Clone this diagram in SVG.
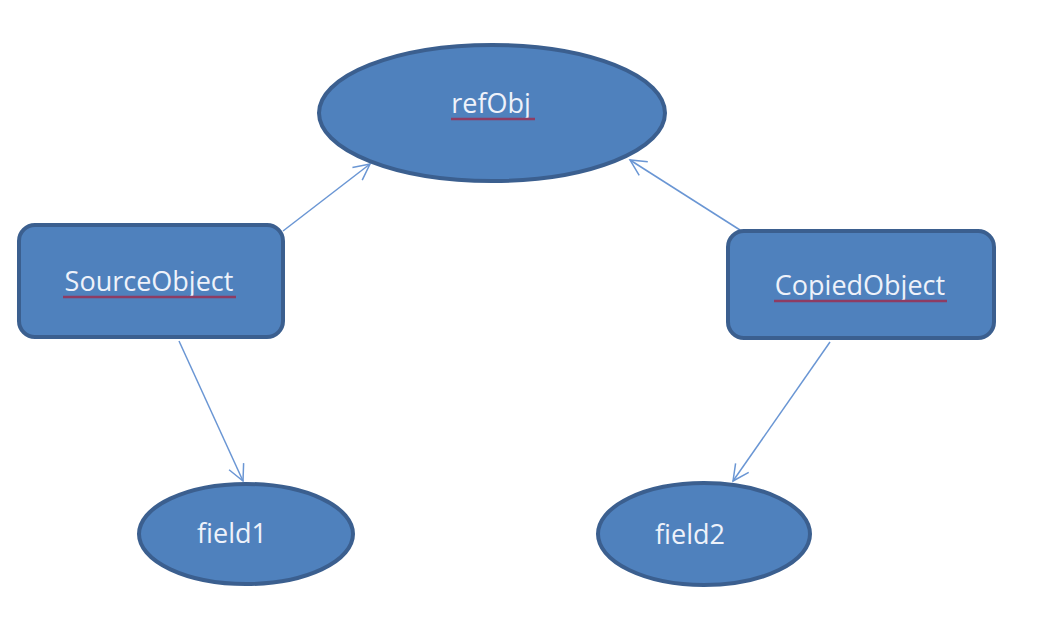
<svg xmlns="http://www.w3.org/2000/svg" width="1056" height="635" viewBox="0 0 1056 635">
<style>
.node{fill:#4f81bd;stroke:#3b5f8f;stroke-width:4}
.lbl{font-family:"Open Sans","Liberation Sans",sans-serif;font-size:27px;fill:#eef2fa;text-anchor:middle}
.sq{stroke:#8e3c63;stroke-width:2.5;fill:none}
.edge{stroke:#6a96d4;stroke-width:1.5;fill:none}
</style>
<defs>
<marker id="arr" viewBox="0 0 20 20" refX="18" refY="10" markerWidth="20" markerHeight="20" markerUnits="userSpaceOnUse" orient="auto">
<path d="M2,2 L18,10 L2,18" fill="none" stroke="#6a96d4" stroke-width="1.5"/>
</marker>
</defs>
<rect width="1056" height="635" fill="#ffffff"/>
<g id="connectors">
<line class="edge" x1="283" y1="231" x2="370" y2="164" marker-end="url(#arr)"/>
<line class="edge" x1="740" y1="230" x2="630" y2="160" marker-end="url(#arr)"/>
<line class="edge" x1="179" y1="341" x2="243" y2="481" marker-end="url(#arr)"/>
<line class="edge" x1="830" y1="342" x2="733" y2="481" marker-end="url(#arr)"/>
</g>
<g id="refObj">
<ellipse class="node" cx="492" cy="113" rx="173" ry="68"/>
<text class="lbl" x="491" y="113">refObj</text>
<line class="sq" x1="451" y1="119" x2="535" y2="119"/>
</g>
<g id="SourceObject">
<rect class="node" x="19" y="225" width="264" height="112" rx="16"/>
<text class="lbl" x="149" y="291">SourceObject</text>
<line class="sq" x1="63" y1="297" x2="236" y2="297"/>
</g>
<g id="CopiedObject">
<rect class="node" x="728" y="231" width="266" height="107" rx="16"/>
<text class="lbl" x="860" y="295">CopiedObject</text>
<line class="sq" x1="774" y1="301" x2="947" y2="301"/>
</g>
<g id="field1">
<ellipse class="node" cx="246" cy="534" rx="107" ry="50"/>
<text class="lbl" x="232" y="543">field1</text>
</g>
<g id="field2">
<ellipse class="node" cx="704" cy="534" rx="106" ry="51"/>
<text class="lbl" x="690" y="544">field2</text>
</g>
</svg>
